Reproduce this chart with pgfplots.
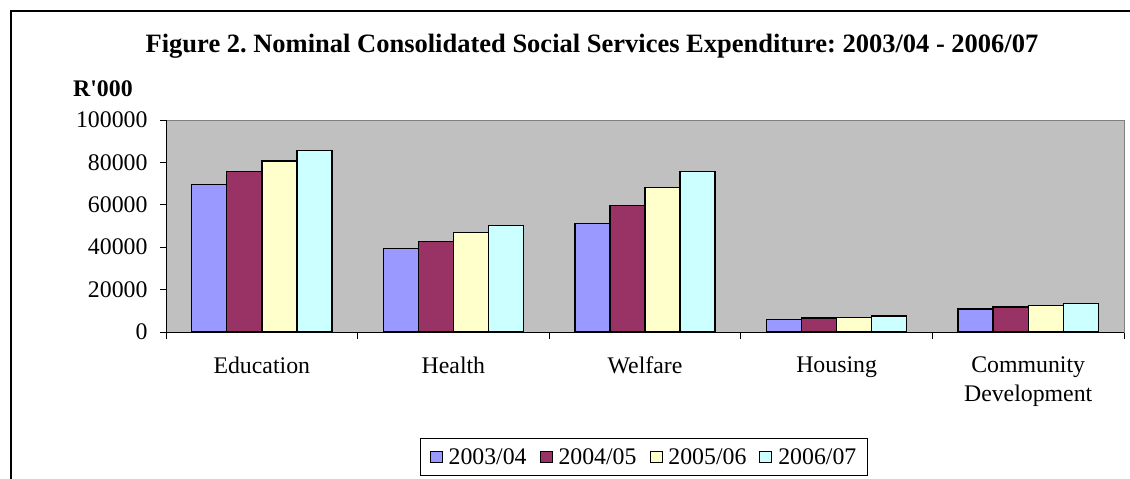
\documentclass[border=0pt]{standalone}
\usepackage{pgfplots}
\pgfplotsset{compat=1.18}
\usepackage{fontspec}
\setmainfont{Liberation Serif}
\definecolor{cA}{HTML}{9999FF}
\definecolor{cB}{HTML}{993366}
\definecolor{cC}{HTML}{FFFFCC}
\definecolor{cD}{HTML}{CCFFFF}
\definecolor{plotgray}{HTML}{C0C0C0}
\definecolor{framegray}{HTML}{808080}
\newcommand{\bigfont}{\fontsize{23.8bp}{29bp}\selectfont}
\newcommand{\titlefont}{\fontsize{26.5bp}{30bp}\selectfont}
\frenchspacing
\begin{document}
\begin{tikzpicture}
\useasboundingbox (0,0) rectangle (1130bp,479bp);
\fill[white] (0,0) rectangle (1130bp,479bp);
\draw[line width=1.6bp] (11bp,0) -- (11bp,468bp) -- (1131bp,468bp);
\node[anchor=base, font=\titlefont\bfseries, inner sep=0pt] at (592bp,426bp) {Figure 2. Nominal Consolidated Social Services Expenditure: 2003/04 - 2006/07};
\node[anchor=base west, font=\bigfont\bfseries, inner sep=0pt] at (73bp,382bp) {R\textquotesingle 000};
\begin{axis}[
  at={(166bp,147bp)}, anchor=south west,
  scale only axis, width=958bp, height=212bp,
  xmin=-0.5, xmax=4.5, ymin=0, ymax=100000,
  ybar, bar width=0.183,
  axis background/.style={fill=plotgray},
  axis line style={draw=framegray, line width=0.8bp},
  xtick={0,1,2,3,4},
  xticklabels={Education,Health,Welfare,Housing,{Community\\Development}},
  xticklabel style={align=center, font=\bigfont, yshift=-15bp},
  major x tick style={draw=none},
  minor xtick={-0.5,0.5,1.5,2.5,3.5,4.5},
  minor x tick style={black, line width=0.8bp},
  minor tick length=7bp,
  ytick={0,20000,40000,60000,80000,100000},
  yticklabels={0,20000,40000,60000,80000,100000},
  major y tick style={black, line width=0.8bp},
  major tick length=6bp,
  tick align=outside,
  xtick pos=left, ytick pos=left,
  yticklabel style={font=\bigfont, xshift=-9bp},
  scaled y ticks=false,
  legend columns=4,
  legend style={at={(0.499,-0.59)}, anchor=center, draw=black, fill=white,
    font=\bigfont, line width=0.7bp, inner xsep=9bp, inner ysep=8bp,
    /tikz/every odd column/.append style={column sep=4bp},
    /tikz/every even column/.append style={column sep=11bp}},
  legend image code/.code={\draw[#1, line width=0.9bp] (0bp,-5.5bp) rectangle (12bp,5.5bp);},
  every axis plot/.append style={draw=black, line width=1.4bp},
  clip=false,
  extra description/.code={
    \draw[black, line width=0.9bp] (rel axis cs:0,1) -- (rel axis cs:0,0) -- (rel axis cs:1,0);
  },
]
\addplot[fill=cA, bar shift=-0.2745] coordinates {(0,69700) (1,39300) (2,51300) (3,5800) (4,10850)};
\addplot[fill=cB, bar shift=-0.0915] coordinates {(0,75600) (1,42800) (2,59600) (3,6600) (4,11800)};
\addplot[fill=cC, bar shift=0.0915] coordinates {(0,80700) (1,47000) (2,68100) (3,6700) (4,12600)};
\addplot[fill=cD, bar shift=0.2745] coordinates {(0,85700) (1,50300) (2,75600) (3,7550) (4,13500)};
\legend{2003/04,2004/05,2005/06,2006/07}
\end{axis}
\end{tikzpicture}
\end{document}
